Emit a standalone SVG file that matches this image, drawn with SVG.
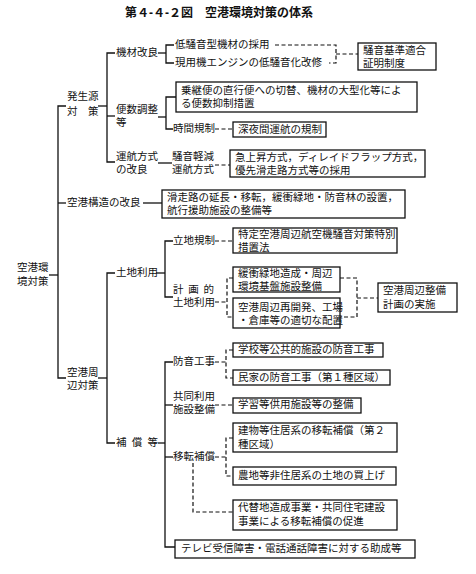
<svg xmlns="http://www.w3.org/2000/svg" width="476" height="574" viewBox="0 0 476 574">
<style>
text{font-family:"Liberation Sans","Noto Sans CJK JP","Noto Sans CJK SC",sans-serif;font-size:10.5px;fill:#111;dominant-baseline:central;transform:translateY(-1px)}
.title{font-size:12px;font-weight:bold}
.box{fill:#fff;stroke:#111;stroke-width:1.3}
.ln{fill:none;stroke:#111;stroke-width:1.3}
.ds{fill:none;stroke:#111;stroke-width:1.2;stroke-dasharray:4 2.5}
</style>
<rect width="476" height="574" fill="#fff"/>
<text class="title" x="125" y="14" textLength="188">第４-４-２図　空港環境対策の体系</text>

<g id="connectors">
<path class="ln" d="M49,275 H58"/>
<path class="ln" d="M66,106 H58 V378 H66"/>
<path class="ln" d="M58,203 H66"/>
<path class="ln" d="M143,203 H162"/>
<path class="ln" d="M98,106 H107"/>
<path class="ln" d="M115,53 H107 V162 H115"/>
<path class="ln" d="M107,116 H115"/>
<path class="ln" d="M158,53 H166"/>
<path class="ln" d="M174,45 H166 V63 H174"/>
<path class="ln" d="M158,117 H166"/>
<path class="ln" d="M176,97 H166 V129 H173"/>
<path class="ln" d="M158,163 H172"/>
<path class="ln" d="M98,378 H107"/>
<path class="ln" d="M115,273 H107 V443 H115"/>
<path class="ln" d="M156,273 H165"/>
<path class="ln" d="M173,241 H165 V297 H173"/>
<path class="ln" d="M158,443 H165"/>
<path class="ln" d="M173,362 H165 V547 H175"/>
<path class="ln" d="M165,405 H173"/>
<path class="ln" d="M165,457 H173"/>
<path class="ds" d="M275,45 H336 V63 H329"/>
<path class="ds" d="M336,54 H358"/>
<path class="ds" d="M215,129 H233"/>
<path class="ds" d="M215,165 H230"/>
<path class="ds" d="M215,241 H233"/>
<path class="ds" d="M215,302 H227"/>
<path class="ds" d="M233,278 H227 V317 H233"/>
<path class="ds" d="M340,278 H357 V317 H340"/>
<path class="ds" d="M357,298 H378"/>
<path class="ds" d="M215,362 H226"/>
<path class="ds" d="M233,350 H226 V378 H233"/>
<path class="ds" d="M215,405 H233"/>
<path class="ds" d="M215,457 H226"/>
<path class="ds" d="M233,438 H226 V476 H233"/>
<path class="ds" d="M193,463 V512 H233"/>
</g>

<g id="root"><text x="17" y="268">空港環</text><text x="17" y="282">境対策</text></g>
<g id="n-hasseigen"><text x="67" y="97">発生源</text><text x="67" y="112">対　策</text></g>
<g id="n-kizai"><text x="116" y="53">機材改良</text></g>
<g id="n-teisouon"><text x="175" y="45">低騒音型機材の採用</text></g>
<g id="n-genyouki"><text x="175" y="63">現用機エンジンの低騒音化改修</text></g>
<g id="b-shomei"><rect class="box" x="358" y="43" width="78" height="27"/><text x="363" y="51">騒音基準適合</text><text x="363" y="64">証明制度</text></g>
<g id="n-binsu"><text x="116" y="110">便数調整</text><text x="116" y="123">等</text></g>
<g id="b-noritsugi"><rect class="box" x="176" y="82" width="241" height="30"/><text x="181" y="91">乗継便の直行便への切替、機材の大型化等によ</text><text x="181" y="104">る便数抑制措置</text></g>
<g id="n-jikan"><text x="173" y="129">時間規制</text></g>
<g id="b-shinya"><rect class="box" x="233" y="122" width="93" height="15"/><text x="238" y="130">深夜間運航の規制</text></g>
<g id="n-unkou"><text x="116" y="157">運航方式</text><text x="116" y="170">の改良</text></g>
<g id="n-souon"><text x="172" y="157">騒音軽減</text><text x="172" y="170">運航方式</text></g>
<g id="b-kyujosho"><rect class="box" x="230" y="150" width="195" height="27"/><text x="235" y="158">急上昇方式，ディレイドフラップ方式，</text><text x="235" y="171">優先滑走路方式等の採用</text></g>
<g id="n-kouzou"><text x="67" y="203">空港構造の改良</text></g>
<g id="b-kassou"><rect class="box" x="162" y="190" width="243" height="28"/><text x="167" y="198">滑走路の延長・移転，緩衝緑地・防音林の設置，</text><text x="167" y="211">航行援助施設の整備等</text></g>
<g id="n-shuhen"><text x="67" y="373">空港周</text><text x="67" y="386">辺対策</text></g>
<g id="n-tochi"><text x="116" y="273">土地利用</text></g>
<g id="n-ricchi"><text x="173" y="241">立地規制</text></g>
<g id="b-tokutei"><rect class="box" x="233" y="228" width="164" height="25"/><text x="238" y="235">特定空港周辺航空機騒音対策特別</text><text x="238" y="248">措置法</text></g>
<g id="n-keikaku"><text x="173" y="290" textLength="41">計 画 的</text><text x="173" y="303">土地利用</text></g>
<g id="b-kanshou"><rect class="box" x="233" y="267" width="107" height="25"/><text x="238" y="274">緩衝緑地造成・周辺</text><text x="238" y="287">環境基盤施設整備</text></g>
<g id="b-saikaihatsu"><rect class="box" x="233" y="298" width="107" height="30"/><text x="238" y="308">空港周辺再開発、工場</text><text x="238" y="321">・倉庫等の適切な配置</text></g>
<g id="b-seibi"><rect class="box" x="378" y="283" width="79" height="29"/><text x="383" y="291">空港周辺整備</text><text x="383" y="305">計画の実施</text></g>
<g id="n-hoshou"><text x="116" y="443" textLength="42">補 償 等</text></g>
<g id="n-bouon"><text x="173" y="362">防音工事</text></g>
<g id="b-gakkou"><rect class="box" x="233" y="343" width="150" height="14"/><text x="238" y="350">学校等公共的施設の防音工事</text></g>
<g id="b-minka"><rect class="box" x="233" y="370" width="157" height="15"/><text x="238" y="378">民家の防音工事（第１種区域）</text></g>
<g id="n-kyoudou"><text x="173" y="397">共同利用</text><text x="173" y="410">施設整備</text></g>
<g id="b-gakushu"><rect class="box" x="233" y="398" width="128" height="15"/><text x="238" y="405">学習等供用施設等の整備</text></g>
<g id="n-iten"><text x="173" y="457">移転補償</text></g>
<g id="b-tatemono"><rect class="box" x="233" y="423" width="164" height="29"/><text x="238" y="431">建物等住居系の移転補償（第２</text><text x="238" y="445">種区域）</text></g>
<g id="b-nouchi"><rect class="box" x="233" y="467" width="163" height="18"/><text x="238" y="476">農地等非住居系の土地の買上げ</text></g>
<g id="b-daitai"><rect class="box" x="233" y="500" width="164" height="30"/><text x="238" y="508">代替地造成事業・共同住宅建設</text><text x="238" y="522">事業による移転補償の促進</text></g>
<g id="b-tv"><rect class="box" x="175" y="540" width="240" height="18"/><text x="181" y="549">テレビ受信障害・電話通話障害に対する助成等</text></g>
</svg>
